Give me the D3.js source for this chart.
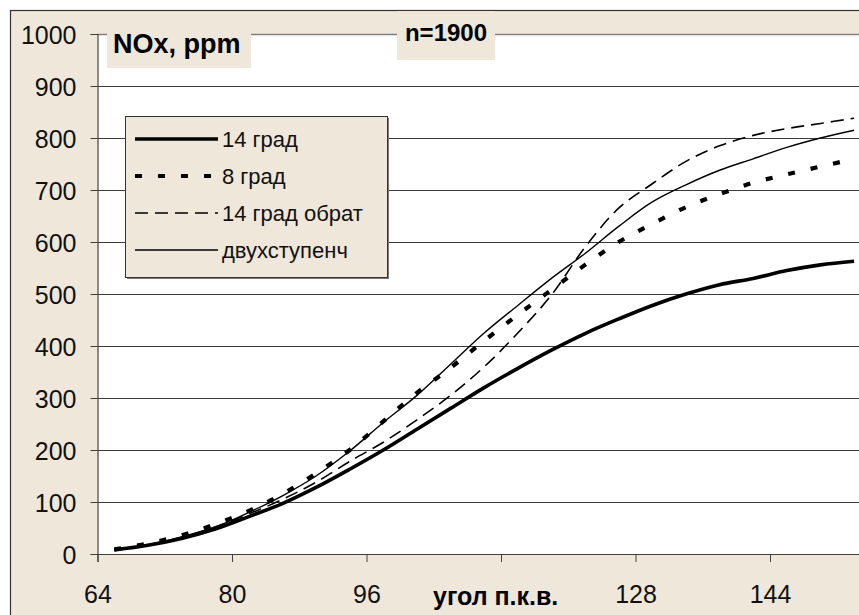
<!DOCTYPE html>
<html>
<head>
<meta charset="utf-8">
<script src="https://cdn.jsdelivr.net/npm/d3@7"></script>
<style>
	body { margin: 0; background: #ffffff; }
	text { font-family: "Liberation Sans", Arial, sans-serif; }
</style>
</head>
<body>
<script>
	// values
const angles = [66, 70, 74, 78, 82, 86, 90, 94, 98, 102, 106, 110, 114, 118, 122, 126, 130, 134, 138, 142, 146, 150, 154];
const grad14 = [8, 17, 30, 48, 72, 97, 128, 163, 200, 240, 280, 320, 357, 392, 424, 452, 478, 500, 518, 530, 545, 556, 563];
const grad8 = [9, 20, 36, 57, 83, 115, 155, 200, 255, 310, 358, 410, 460, 508, 556, 600, 635, 667, 692, 714, 730, 745, 760];
const grad14obr = [8, 18, 32, 52, 77, 105, 138, 178, 215, 258, 305, 360, 425, 498, 590, 665, 712, 755, 785, 805, 818, 828, 838];
const dvuh = [8, 18, 33, 52, 80, 112, 150, 198, 253, 305, 365, 425, 478, 530, 578, 630, 677, 710, 738, 760, 782, 800, 815];

const seriesNames = ["14 град", "8 град", "14 град обрат", "двухступенч"];
const xTicks = [64, 80, 96, 112, 128, 144];
const yTicks = [0, 100, 200, 300, 400, 500, 600, 700, 800, 900, 1000];

const beige = "#efe7da";

const size_graph = {x: 859, y: 615},
	plot = {left: 97.5, top: 34, right: 904.5, bot: 554};

const svg = d3.select("body").append("svg")
	.attr("width", size_graph.x)
	.attr("height", size_graph.y);

// outer frame
svg.append("rect")
	.attr("x", 10.5).attr("y", 10.5)
	.attr("width", size_graph.x + 10).attr("height", size_graph.y + 10)
	.style("fill", beige).style("stroke", "#333").style("stroke-width", 1.2);

svg.append("rect")
	.attr("x", plot.left).attr("y", plot.top)
	.attr("width", plot.right - plot.left).attr("height", plot.bot - plot.top)
	.style("fill", "white");

let x = d3.scaleLinear().domain([64, 160]).range([plot.left, plot.right]);
let y = d3.scaleLinear().domain([0, 1000]).range([plot.bot, plot.top]);

// gridlines
svg.append("g")
	.selectAll("line")
	.data(yTicks.slice(1))
	.enter()
	.append("line")
	.attr("x1", plot.left).attr("x2", plot.right)
	.attr("y1", d => Math.round(y(d)) + 0.5).attr("y2", d => Math.round(y(d)) + 0.5)
	.style("stroke", d => d === 1000 ? "#808080" : "#3a3a3a")
	.style("stroke-width", d => d === 1000 ? 1.5 : 1);

let yAxis = d3.axisLeft(y).tickValues(yTicks).tickSize(7).tickPadding(14).tickFormat(d3.format("d"));
	// 112 is hidden under the axis title in the original
let xAxis = d3.axisBottom(x).tickValues(xTicks).tickSize(8).tickPadding(23)
	.tickFormat(d => d === 112 ? "" : d);

let gy = svg.append("g")
	.attr("transform", `translate(${plot.left},0)`)
	.call(yAxis);
let gx = svg.append("g")
	.attr("transform", `translate(0,${plot.bot})`)
	.call(xAxis);

[gx, gy].forEach(g => {
	g.select(".domain").style("stroke", "#404040").style("stroke-width", 1.2);
	g.selectAll(".tick line").style("stroke", "#404040");
	g.selectAll("text")
		.style("font-family", '"Liberation Sans", Arial, sans-serif')
		.style("font-size", "25px")
		.style("fill", "#111");
});
gy.selectAll("text").attr("dy", "0.36em");

// lines
const series = [
	{name: seriesNames[0], vals: grad14, width: 3.6, dash: null},
	{name: seriesNames[1], vals: grad8, width: 4.2, dash: "7,16"},
	{name: seriesNames[2], vals: grad14obr, width: 1.6, dash: "13,7"},
	{name: seriesNames[3], vals: dvuh, width: 1.4, dash: null}
];

let line = d3.line()
	.x(d => x(d[0]))
	.y(d => y(d[1]))
	.curve(d3.curveCatmullRom);

series.forEach(s => {
	svg.append("path")
		.datum(angles.map((a, i) => [a, s.vals[i]]))
		.attr("d", line)
		.style("fill", "none")
		.style("stroke", "#000")
		.style("stroke-width", s.width)
		.style("stroke-dasharray", s.dash);
});

// title boxes
svg.append("rect")
	.attr("x", 107).attr("y", 28).attr("width", 144).attr("height", 40)
	.style("fill", beige);
svg.append("text")
	.attr("x", 113).attr("y", 53)
	.text("NOx, ppm")
	.style("font-size", "27px").style("font-weight", "bold");

svg.append("rect")
	.attr("x", 397).attr("y", 11).attr("width", 98).attr("height", 49)
	.style("fill", beige);
svg.append("text")
	.attr("x", 446).attr("y", 41)
	.attr("text-anchor", "middle")
	.text("n=1900")
	.style("font-size", "24px").style("font-weight", "bold");

svg.append("text")
	.attr("x", 433).attr("y", 605)
	.text("угол п.к.в.")
	.style("font-size", "25px").style("font-weight", "bold");

// legend
const leg = {x: 125, y: 116, w: 262, h: 161, row: 37};
svg.append("rect")
	.attr("x", leg.x + 2).attr("y", leg.y + 2).attr("width", leg.w).attr("height", leg.h)
	.style("fill", "#7a7a7a");
svg.append("rect")
	.attr("x", leg.x + 0.5).attr("y", leg.y + 0.5).attr("width", leg.w).attr("height", leg.h)
	.style("fill", beige).style("stroke", "#333").style("stroke-width", 1);

series.forEach((s, i) => {
	let ly = leg.y + 23 + i * leg.row;
	svg.append("line")
		.attr("x1", 135).attr("x2", 218)
		.attr("y1", ly).attr("y2", ly)
		.style("stroke", "#000")
		.style("stroke-width", s.width)
		.style("stroke-dasharray", s.dash);
	svg.append("text")
		.attr("x", 222).attr("y", ly + 8)
		.text(s.name)
		.style("font-size", "22px")
		.style("fill", "#111");
});
</script>
</body>
</html>
